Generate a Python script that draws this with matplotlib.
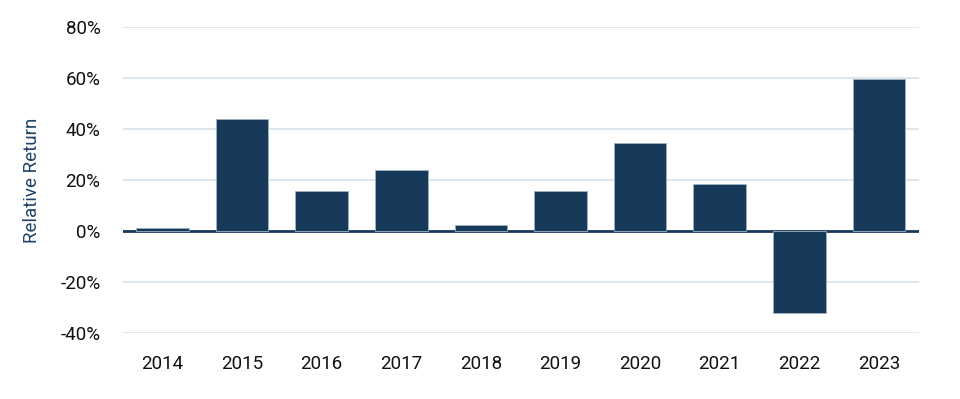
import numpy as np
import matplotlib
matplotlib.use("Agg")
import matplotlib.pyplot as plt
from matplotlib.ticker import FuncFormatter

years = ["2014", "2015", "2016", "2017", "2018", "2019", "2020", "2021", "2022", "2023"]
relative_return = [1.2, 43.9, 15.7, 23.8, 2.5, 15.6, 34.7, 18.3, -32.1, 59.7]
y_ticks = [-40, -20, 0, 20, 40, 60, 80]

BAR_COLOR = "#173a5b"
GRID_COLOR = "#dde7ef"
LABEL_COLOR = "#1f4266"

plt.rcParams["font.family"] = ["Liberation Sans Narrow", "Roboto", "DejaVu Sans"]

fig = plt.figure(figsize=(9.6, 3.99), dpi=100)
ax = fig.add_axes([0.1278, 0.166, 0.8292, 0.7656])

x = np.arange(len(years))
ax.bar(x, relative_return, width=0.66, color=BAR_COLOR, edgecolor="#9fb2c4",
       linewidth=0.6, zorder=3)
ax.axhline(0, color=BAR_COLOR, linewidth=2.0, zorder=2)

ax.set_xlim(-0.5, len(years) - 0.5)
ax.set_ylim(-40, 80)
ax.set_yticks(y_ticks)
ax.yaxis.set_major_formatter(FuncFormatter(lambda v, _: f"{v:.0f}%"))
ax.set_xticks(x)
ax.set_xticklabels(years)
ax.grid(axis="y", color=GRID_COLOR, linewidth=1.4, zorder=0)
ax.set_axisbelow(True)

for side in ["top", "right", "left", "bottom"]:
    ax.spines[side].set_visible(False)
ax.tick_params(axis="both", length=0, labelsize=13.5, colors="#111111")
ax.tick_params(axis="y", pad=16)
ax.tick_params(axis="x", pad=16)

ax.set_ylabel("Relative Return", fontsize=13.5, color=LABEL_COLOR, labelpad=14)

fig.savefig("out.png", dpi=100)
